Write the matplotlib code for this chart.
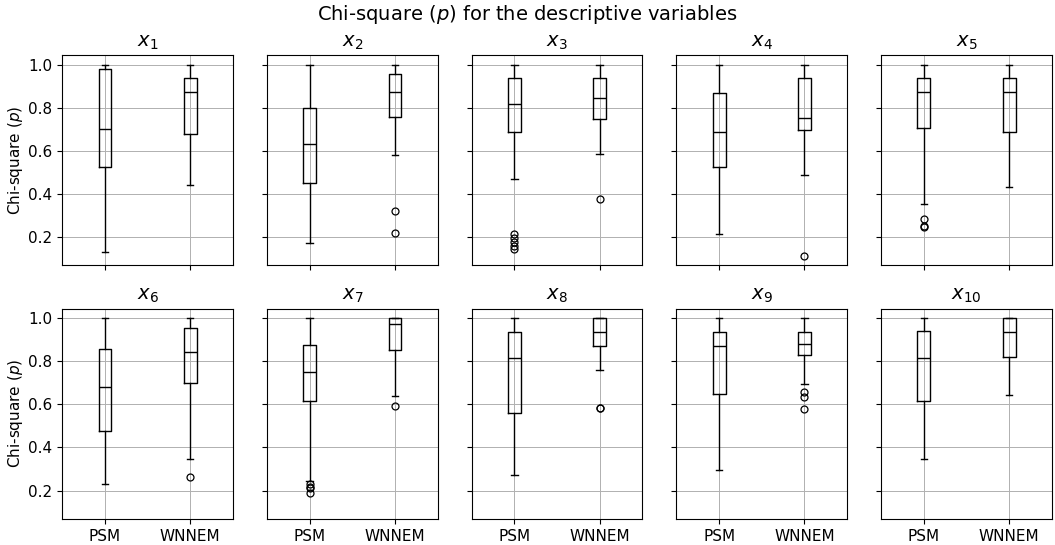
import matplotlib
matplotlib.use('Agg')
import matplotlib.pyplot as plt

### data (box statistics per variable)
variables = ['$x_{1}$', '$x_{2}$', '$x_{3}$', '$x_{4}$', '$x_{5}$',
             '$x_{6}$', '$x_{7}$', '$x_{8}$', '$x_{9}$', '$x_{10}$']
methods = ['PSM', 'WNNEM']

## PSM
psm_whislo = [0.133, 0.174, 0.471, 0.215, 0.355, 0.232, 0.242, 0.274, 0.296, 0.345]
psm_q1 = [0.525, 0.451, 0.688, 0.526, 0.704, 0.476, 0.615, 0.558, 0.647, 0.616]
psm_med = [0.700, 0.631, 0.818, 0.688, 0.875, 0.678, 0.750, 0.813, 0.872, 0.817]
psm_q3 = [0.978, 0.801, 0.937, 0.869, 0.937, 0.855, 0.874, 0.937, 0.937, 0.938]
psm_whishi = [1.0, 1.0, 1.0, 1.0, 1.0, 1.0, 1.0, 1.0, 1.0, 1.0]
psm_fliers = [[], [], [0.215, 0.197, 0.178, 0.160, 0.143], [], [0.282, 0.252, 0.245],
              [], [0.228, 0.218, 0.210, 0.188], [], [], []]

## WNNEM
wn_whislo = [0.443, 0.582, 0.585, 0.489, 0.434, 0.346, 0.638, 0.760, 0.696, 0.644]
wn_q1 = [0.679, 0.758, 0.748, 0.698, 0.688, 0.698, 0.852, 0.872, 0.829, 0.820]
wn_med = [0.875, 0.875, 0.847, 0.753, 0.875, 0.844, 0.971, 0.937, 0.880, 0.934]
wn_q3 = [0.937, 0.955, 0.937, 0.937, 0.937, 0.954, 1.0, 1.0, 0.937, 1.0]
wn_whishi = [1.0, 1.0, 1.0, 1.0, 1.0, 1.0, 1.0, 1.0, 1.0, 1.0]
wn_fliers = [[], [0.319, 0.221], [0.375], [0.113], [], [0.265], [0.592],
             [0.585, 0.582], [0.656, 0.636, 0.579], []]


def stats(lo, q1, med, q3, hi, fl, label):
    return dict(whislo=lo, q1=q1, med=med, q3=q3, whishi=hi, fliers=fl, label=label)


fig, axes = plt.subplots(2, 5, figsize=(10.55, 5.45), dpi=100, sharex=True, sharey=True)
black = dict(color='black', linewidth=1.0)

for i, ax in enumerate(axes.flat):
    bstats = [stats(psm_whislo[i], psm_q1[i], psm_med[i], psm_q3[i], psm_whishi[i], psm_fliers[i], methods[0]),
              stats(wn_whislo[i], wn_q1[i], wn_med[i], wn_q3[i], wn_whishi[i], wn_fliers[i], methods[1])]
    ax.bxp(bstats, positions=[1, 2], widths=0.15, boxprops=black, whiskerprops=black,
           capprops=black, medianprops=black, manage_ticks=False,
           flierprops=dict(marker='o', markerfacecolor='none', markeredgecolor='black',
                           markersize=5, markeredgewidth=0.9))
    ax.grid(True, color='#b0b0b0', linewidth=0.7)
    ax.set_axisbelow(True)
    ax.set_title(variables[i], fontsize=14)
    ax.tick_params(labelsize=11)

axes[0, 0].set_xlim(0.5, 2.5)
axes[0, 0].set_xticks([1, 2])
axes[0, 0].set_xticklabels(methods)
axes[0, 0].set_yticks([0.2, 0.4, 0.6, 0.8, 1.0])
axes[0, 0].set_ylabel('Chi-square ($p$)', fontsize=11, labelpad=2)
axes[1, 0].set_ylabel('Chi-square ($p$)', fontsize=11, labelpad=2)

fig.suptitle('Chi-square ($p$) for the descriptive variables', fontsize=14, y=0.995)
plt.subplots_adjust(left=0.059, right=0.997, top=0.899, bottom=0.048, wspace=0.2, hspace=0.205)
plt.savefig('out.png')
